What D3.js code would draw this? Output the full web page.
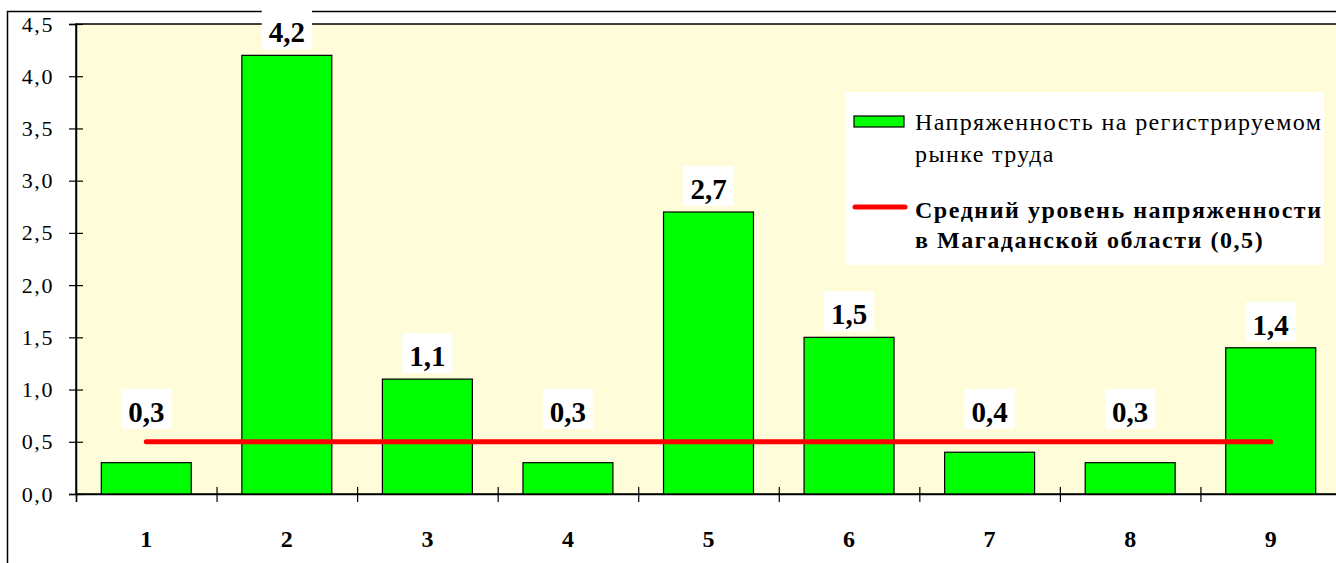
<!DOCTYPE html>
<html>
<head>
<meta charset="utf-8">
<script src="https://cdn.jsdelivr.net/npm/d3@7"></script>
<style>
  html, body { margin: 0; padding: 0; background: #ffffff; }
  svg { display: block; }
  svg text { font-family: "Times New Roman", "Liberation Serif", "DejaVu Serif", "Noto Serif", serif !important; fill: #000; }
</style>
</head>
<body>
<svg id="chart" width="1336" height="563"></svg>
<script>
// ---- data ----
const categories = ["1", "2", "3", "4", "5", "6", "7", "8", "9"];
const values = [0.3, 4.2, 1.1, 0.3, 2.7, 1.5, 0.4, 0.3, 1.4];
const averageValue = 0.5;
const yTickValues = [0, 0.5, 1.0, 1.5, 2.0, 2.5, 3.0, 3.5, 4.0, 4.5];
const legendBarLabel = ["Напряженность на регистрируемом", "рынке труда"];
const legendLineLabel = ["Средний уровень напряженности", "в Магаданской области (0,5)"];

// ---- layout ----
const plot = { left: 76, top: 24, right: 1341, bottom: 494 };
const svg = d3.select("#chart");
const fmt = v => d3.format(".1f")(v).replace(".", ",");

// outer chart border
svg.append("rect")
  .attr("x", 7.5).attr("y", 11.5)
  .attr("width", 1400).attr("height", 600)
  .attr("fill", "#ffffff").attr("stroke", "#000").attr("stroke-width", 1.5);

const x = d3.scaleBand().domain(categories)
  .range([plot.left, plot.right]).paddingInner(0.36).paddingOuter(0.18);
const xb = d3.scaleLinear().domain([0, categories.length]).range([plot.left, plot.right]);
const y = d3.scaleLinear().domain([0, 4.5]).range([plot.bottom, plot.top]);

// plot area
svg.append("rect")
  .attr("x", plot.left).attr("y", plot.top)
  .attr("width", plot.right - plot.left).attr("height", plot.bottom - plot.top)
  .attr("fill", "#FFFDD9").attr("stroke", "#000").attr("stroke-width", 1.5);

// bars
svg.append("g").selectAll("rect").data(values).join("rect")
  .attr("x", (d, i) => x(categories[i]))
  .attr("y", d => y(d))
  .attr("width", x.bandwidth())
  .attr("height", d => y(0) - y(d))
  .attr("fill", "#00FF00").attr("stroke", "#000").attr("stroke-width", 1.2);

// average line
const avgY = y(averageValue);
svg.append("line")
  .attr("x1", x(categories[0]) + x.bandwidth() / 2)
  .attr("x2", x(categories[categories.length - 1]) + x.bandwidth() / 2)
  .attr("y1", avgY).attr("y2", avgY)
  .attr("stroke", "#FF0000").attr("stroke-width", 5).attr("stroke-linecap", "round");

// y axis
const yAxis = svg.append("g").attr("transform", `translate(${plot.left},0)`)
  .call(d3.axisLeft(y).tickValues(yTickValues).tickFormat(fmt).tickSize(7).tickPadding(15));
yAxis.attr("font-family", null).attr("font-size", null);
yAxis.select(".domain").attr("stroke", "#000").attr("stroke-width", 1.5);
yAxis.selectAll(".tick line").attr("x1", 7).attr("x2", -7).attr("stroke", "#000").attr("stroke-width", 1.2);
yAxis.selectAll(".tick text").attr("font-size", 22).attr("dy", "0.32em").attr("letter-spacing", 1.6);

// x axis (ticks at category boundaries)
const xAxis = svg.append("g").attr("transform", `translate(0,${plot.bottom})`)
  .call(d3.axisBottom(xb).tickValues(d3.range(0, categories.length + 1)).tickFormat("").tickSize(8));
xAxis.select(".domain").attr("stroke", "#000").attr("stroke-width", 1.5);
xAxis.selectAll(".tick line").attr("y1", -7).attr("y2", 8).attr("stroke", "#000").attr("stroke-width", 1.2);

// category labels
svg.append("g").selectAll("text").data(categories).join("text")
  .attr("x", d => x(d) + x.bandwidth() / 2)
  .attr("y", 547)
  .attr("text-anchor", "middle")
  .attr("font-weight", "bold").attr("font-size", 24)
  .text(d => d);

// value labels with white backgrounds
const lblG = svg.append("g");
values.forEach((v, i) => {
  const cx = x(categories[i]) + x.bandwidth() / 2;
  const by = Math.min(y(v) - 13, avgY - 20);
  const g = lblG.append("g");
  const bg = g.append("rect").attr("fill", "#ffffff");
  const t = g.append("text")
    .attr("x", cx).attr("y", by)
    .attr("text-anchor", "middle")
    .attr("font-weight", "bold").attr("font-size", 29)
    .text(fmt(v));
  const bb = t.node().getBBox();
  bg.attr("x", bb.x - 7).attr("y", bb.y - 7).attr("width", bb.width + 14).attr("height", bb.height + 8);
});

// legend
const lg = svg.append("g");
lg.append("rect").attr("x", 845).attr("y", 92).attr("width", 479).attr("height", 173).attr("fill", "#ffffff");
lg.append("rect").attr("x", 854).attr("y", 116).attr("width", 50).attr("height", 11)
  .attr("fill", "#00FF00").attr("stroke", "#000").attr("stroke-width", 1.2);
const t1 = lg.append("text").attr("x", 915).attr("y", 130).attr("font-size", 24);
legendBarLabel.forEach((s, i) => t1.append("tspan").attr("x", 915).attr("dy", i ? 32 : 0).text(s));
lg.append("line").attr("x1", 855).attr("x2", 905).attr("y1", 207).attr("y2", 207)
  .attr("stroke", "#FF0000").attr("stroke-width", 5).attr("stroke-linecap", "round");
const t2 = lg.append("text").attr("x", 915).attr("y", 218).attr("font-size", 24).attr("font-weight", "bold");
legendLineLabel.forEach((s, i) => t2.append("tspan").attr("x", 915).attr("dy", i ? 30 : 0).text(s));

// widen legend text slightly so that the first line reaches the box edge
[t1, t2].forEach(t => {
  const first = t.select("tspan");
  const w = first.node().getComputedTextLength();
  const n = first.text().length;
  const ls = Math.max(0, (406 - w) / (n - 1));
  t.attr("letter-spacing", ls.toFixed(2));
});
</script>
</body>
</html>
